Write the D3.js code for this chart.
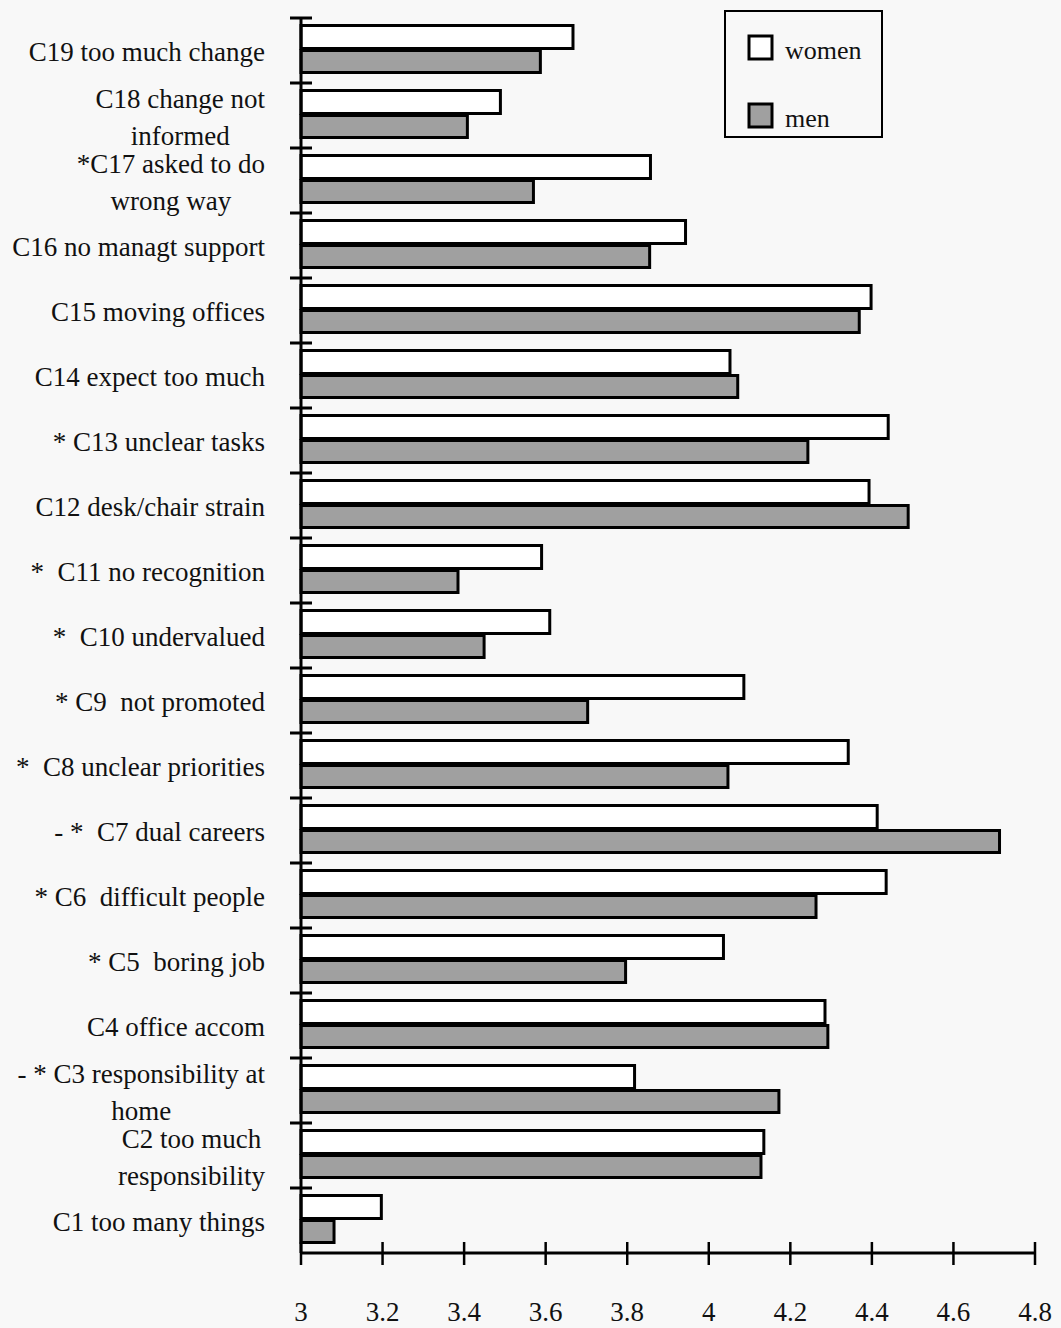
<!DOCTYPE html>
<html>
<head>
<meta charset="utf-8">
<script src="https://cdn.jsdelivr.net/npm/d3@7"></script>
<style>
  html, body { margin: 0; padding: 0; background: #f8f8f8; }
  svg { display: block; }
  text { font-family: "Liberation Serif", "Times New Roman", serif; fill: #111; }
</style>
</head>
<body>
<svg id="chart" width="1061" height="1328"></svg>
<script>
// Categories, top to bottom as shown
const categories = [
  "C19 too much change",
  "C18 change not\ninformed",
  "*C17 asked to do\nwrong way",
  "C16 no managt support",
  "C15 moving offices",
  "C14 expect too much",
  "* C13 unclear tasks",
  "C12 desk/chair strain",
  "*  C11 no recognition",
  "*  C10 undervalued",
  "* C9  not promoted",
  "*  C8 unclear priorities",
  "- *  C7 dual careers",
  "* C6  difficult people",
  "* C5  boring job",
  "C4 office accom",
  "- * C3 responsibility at\nhome",
  "C2 too much\nresponsibility",
  "C1 too many things"
];
const women = [3.667, 3.489, 3.857, 3.943, 4.398, 4.052, 4.440, 4.393, 3.590, 3.610,
               4.086, 4.342, 4.413, 4.435, 4.036, 4.285, 3.818, 4.135, 3.197];
const men   = [3.587, 3.408, 3.570, 3.855, 4.369, 4.071, 4.243, 4.489, 3.385, 3.449,
               3.703, 4.047, 4.713, 4.263, 3.796, 4.292, 4.172, 4.128, 3.081];
const xTicks = [3, 3.2, 3.4, 3.6, 3.8, 4, 4.2, 4.4, 4.6, 4.8];
const seriesNames = ["women", "men"];

const svg = d3.select("#chart");
const x = d3.scaleLinear().domain([3, 4.8]).range([301, 1035]);
const y = d3.scaleBand().domain(categories).range([18, 1253]).paddingInner(0).paddingOuter(0);
const bw = y.bandwidth();

const menFill = "#a0a0a0";

// Bars
const g = svg.append("g");
categories.forEach((c, i) => {
  const b = y(c);
  g.append("rect")
    .attr("x", x(3)).attr("y", b + 7.5)
    .attr("width", x(women[i]) - x(3)).attr("height", 23)
    .attr("fill", "#ffffff").attr("stroke", "#000").attr("stroke-width", 3);
  g.append("rect")
    .attr("x", x(3)).attr("y", b + 32.5)
    .attr("width", x(men[i]) - x(3)).attr("height", 22)
    .attr("fill", menFill).attr("stroke", "#000").attr("stroke-width", 3);
});

// Y axis line and category boundary ticks
svg.append("line")
  .attr("x1", x(3)).attr("x2", x(3))
  .attr("y1", 18).attr("y2", 1253)
  .attr("stroke", "#000").attr("stroke-width", 3);
categories.forEach(c => {
  svg.append("line")
    .attr("x1", x(3) - 11).attr("x2", x(3) + 11)
    .attr("y1", y(c)).attr("y2", y(c))
    .attr("stroke", "#000").attr("stroke-width", 3);
});

// Category labels (right-aligned block, wrapped lines centered within block)
const labelRight = 265;
categories.forEach(c => {
  const lines = c.split("\n");
  const cy = y(c) + bw / 2;
  if (lines.length === 1) {
    svg.append("text")
      .attr("x", labelRight).attr("y", cy + 10)
      .attr("text-anchor", "end")
      .attr("font-size", 27)
      .attr("xml:space", "preserve")
      .text(lines[0]);
  } else {
    const grp = svg.append("g");
    const t1 = grp.append("text")
      .attr("x", 0).attr("y", cy - 8)
      .attr("text-anchor", "middle").attr("font-size", 27)
      .attr("xml:space", "preserve").text(lines[0]);
    const t2 = grp.append("text")
      .attr("x", 0).attr("y", cy + 29)
      .attr("text-anchor", "middle").attr("font-size", 27)
      .attr("xml:space", "preserve").text(lines[1]);
    const w = Math.max(t1.node().getComputedTextLength(), t2.node().getComputedTextLength());
    grp.attr("transform", `translate(${labelRight - w / 2},0)`);
  }
});

// X axis
const xAxisY = 1253;
svg.append("line")
  .attr("x1", x(3)).attr("x2", x(4.8))
  .attr("y1", xAxisY).attr("y2", xAxisY)
  .attr("stroke", "#000").attr("stroke-width", 3);
xTicks.forEach(t => {
  svg.append("line")
    .attr("x1", x(t)).attr("x2", x(t))
    .attr("y1", xAxisY - 11).attr("y2", xAxisY + 12)
    .attr("stroke", "#000").attr("stroke-width", 2.5);
  svg.append("text")
    .attr("x", x(t)).attr("y", 1321)
    .attr("text-anchor", "middle").attr("font-size", 27)
    .text(d3.format("")(t));
});

// Legend
const lg = svg.append("g");
lg.append("rect")
  .attr("x", 725).attr("y", 11).attr("width", 157).attr("height", 126)
  .attr("fill", "none").attr("stroke", "#000").attr("stroke-width", 2);
seriesNames.forEach((s, i) => {
  const sy = i === 0 ? 36 : 104;
  lg.append("rect")
    .attr("x", 749).attr("y", sy).attr("width", 23).attr("height", 23)
    .attr("fill", i === 0 ? "#ffffff" : menFill)
    .attr("stroke", "#000").attr("stroke-width", 3);
  lg.append("text")
    .attr("x", 785).attr("y", sy + 23)
    .attr("font-size", 26)
    .text(s);
});
</script>
</body>
</html>
